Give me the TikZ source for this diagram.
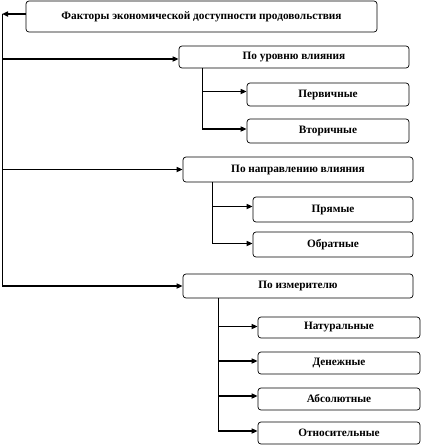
\documentclass[tikz,border=0pt]{standalone}
\usepackage{fontspec}
\setmainfont{Liberation Serif}
\usetikzlibrary{arrows.meta}
\begin{document}
\begin{tikzpicture}[x=1pt,y=-1pt,
  box/.style={draw,rounded corners=3pt,line width=0.7pt,inner sep=0pt,
    font=\fontsize{11.3}{13}\selectfont\bfseries},
  conn/.style={line width=1.8pt,-{Triangle[length=6pt,width=5pt]}},
  spine/.style={line width=1pt}]
\useasboundingbox (0,0) rectangle (421,445);
\node[box,minimum width=351pt,minimum height=31pt] (top) at (201.5,16.5) {Факторы экономической доступности продовольствия};
\node[box,minimum width=230pt,minimum height=22pt] (ur) at (294,57) {По уровню влияния};
\node[box,minimum width=162pt,minimum height=23pt] (perv) at (328,94.5) {Первичные};
\node[box,minimum width=162pt,minimum height=24pt] (vtor) at (328,131) {Вторичные};
\node[box,minimum width=230pt,minimum height=25pt] (napr) at (298,169.5) {По направлению влияния};
\node[box,minimum width=160pt,minimum height=25pt] (pryam) at (333,209.5) {Прямые};
\node[box,minimum width=160pt,minimum height=25pt] (obr) at (333,244.5) {Обратные};
\node[box,minimum width=230pt,minimum height=24pt] (izm) at (298,286) {По измерителю};
\node[box,minimum width=162pt,minimum height=21pt] (nat) at (339,327.5) {Натуральные};
\node[box,minimum width=162pt,minimum height=22pt] (den) at (339,363) {Денежные};
\node[box,minimum width=162pt,minimum height=22pt] (abs) at (339,399) {Абсолютные};
\node[box,minimum width=162pt,minimum height=22pt] (otn) at (339,433) {Относительные};
\coordinate (s0) at (2,14);
\coordinate (x1) at (202,0);
\coordinate (x2) at (212,0);
\coordinate (x3) at (218,0);
\coordinate (b1) at (ur.south -| x1);
\coordinate (b2) at (napr.south -| x2);
\coordinate (b3) at (izm.south -| x3);
% arrow targets
\coordinate (tur) at ([yshift=-2pt]ur.west);
\coordinate (tnapr) at (napr.west);
\coordinate (tizm) at (izm.west);
\coordinate (tperv) at ([yshift=3pt]perv.west);
\coordinate (tvtor) at ([yshift=2pt]vtor.west);
\coordinate (tpryam) at ([yshift=3pt]pryam.west);
\coordinate (tobr) at ([yshift=1pt]obr.west);
\coordinate (tnat) at ([yshift=1pt]nat.west);
\coordinate (tden) at ([yshift=2pt]den.west);
\coordinate (tabs) at ([yshift=3pt]abs.west);
\coordinate (totn) at ([yshift=2pt]otn.west);
% spines
\draw[spine] (s0) -- (s0 |- tizm);
\draw[spine] (b1) -- (b1 |- tvtor);
\draw[spine] (b2) -- (b2 |- tobr);
\draw[spine] (b3) -- (b3 |- totn);
% arrows
\draw[conn] (top.west |- s0) -- (s0);
\draw[conn] (s0 |- tur) -- (tur);
\draw[conn] (s0 |- tnapr) -- (tnapr);
\draw[conn] (s0 |- tizm) -- (tizm);
\draw[conn] (b1 |- tperv) -- (tperv);
\draw[conn] (b1 |- tvtor) -- (tvtor);
\draw[conn] (b2 |- tpryam) -- (tpryam);
\draw[conn] (b2 |- tobr) -- (tobr);
\draw[conn] (b3 |- tnat) -- (tnat);
\draw[conn] (b3 |- tden) -- (tden);
\draw[conn] (b3 |- tabs) -- (tabs);
\draw[conn] (b3 |- totn) -- (totn);
\end{tikzpicture}
\end{document}
